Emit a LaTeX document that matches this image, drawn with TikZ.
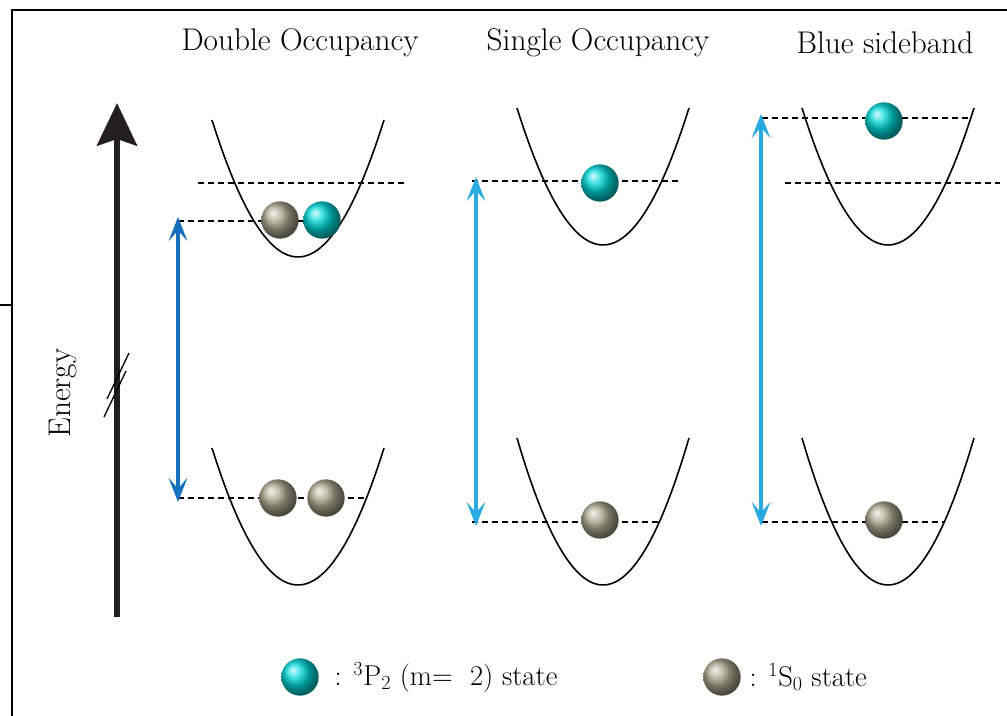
\documentclass[tikz,border=0pt]{standalone}
\usetikzlibrary{arrows.meta}
\definecolor{darkblue}{RGB}{21,112,190}
\definecolor{skyblue}{RGB}{41,171,226}
\definecolor{groundgrey}{RGB}{172,168,142}
\definecolor{excited}{RGB}{0,215,215}
\definecolor{axisblack}{RGB}{35,31,32}

\begin{document}
\begin{tikzpicture}[x=0.75pt,y=-0.75pt,
    font=\fontsize{23.5}{28}\selectfont,
    well/.style={line width=1.2pt, domain=-86:86, samples=50},
    level/.style={line width=1pt, dash pattern=on 4.5pt off 3pt},
    pball/.style={circle, minimum size=28pt, inner sep=0pt, ball color=excited},
    sball/.style={circle, minimum size=28pt, inner sep=0pt, ball color=groundgrey},
    keytext/.style={anchor=west, font=\fontsize{21.5}{26}\selectfont},
    transition/.style={line width=3pt, {Stealth[length=18pt,width=14pt,inset=8pt]}-{Stealth[length=18pt,width=14pt,inset=8pt]}}]
\useasboundingbox (0,0) rectangle (1007,716);

% frame
\draw[line width=1.5pt] (12,716) -- (12,10) -- (1007,10);
\draw[line width=0.8pt] (0,305) -- (12,305);

% energy axis
\coordinate (ebottom) at (117,617);
\coordinate (etop) at (117,103);
\draw[line width=4.5pt, axisblack, -{Stealth[length=32pt,width=30pt,inset=5pt]}] (ebottom) -- (etop);
\draw[line width=1pt] (104,417) -- (126,371);
\draw[line width=1pt] (107,399) -- (129,353);
\node[rotate=90] (energy) at (63,393) {Energy};

% titles
\node (title1) at (300,43) {Double Occupancy};
\node (title2) at (598,43) {Single Occupancy};
\node (title3) at (885,43) {Blue sideband};

% wells
\draw[well] plot ({298+\x},{257-137*(\x/86)^2});
\draw[well] plot ({298+\x},{585-137*(\x/86)^2});
\draw[well] plot ({603+\x},{245-137*(\x/86)^2});
\draw[well] plot ({603+\x},{585-147*(\x/86)^2});
\draw[well] plot ({888+\x},{245-137*(\x/86)^2});
\draw[well] plot ({888+\x},{585-147*(\x/86)^2});

% levels
\draw[level] (198,183) -- (405,183);
\draw[level] (178,221) -- (340,221);
\draw[level] (178,498) -- (365,498);
\draw[level] (472,181) -- (680,181);
\draw[level] (472,522) -- (660,522);
\draw[level] (762,118) -- (968,118);
\draw[level] (785,183) -- (1000,183);
\draw[level] (762,522) -- (945,522);

% Double Occupancy
\node[sball] (d1s) at (280,220) {};
\node[pball] (d1p) at (322,220) {};
\node[sball] (d0a) at (278,498) {};
\node[sball] (d0b) at (326,498) {};
\coordinate (d1up) at (178,217);
\coordinate (d1dn) at (178,502);
\draw[transition, darkblue] (d1up) -- (d1dn);

% Single Occupancy
\node[pball] (s1p) at (600,183) {};
\node[sball] (s0) at (600,520) {};
\coordinate (s1up) at (476,177);
\coordinate (s1dn) at (476,526);
\draw[transition, skyblue] (s1up) -- (s1dn);

% Blue sideband
\node[pball] (b1p) at (884,121) {};
\node[sball] (b0) at (884,520) {};
\coordinate (b1up) at (761,114);
\coordinate (b1dn) at (761,526);
\draw[transition, skyblue] (b1up) -- (b1dn);

% legend
\node[pball] (keyp) at (300,677) {};
\node[keytext] (keyptext) at (330,677) {: \textsuperscript{3}P\textsubscript{2} (m= \ 2) state};
\node[sball] (keys) at (722,677) {};
\node[keytext] (keystext) at (745,677) {: \textsuperscript{1}S\textsubscript{0} state};
\end{tikzpicture}
\end{document}
